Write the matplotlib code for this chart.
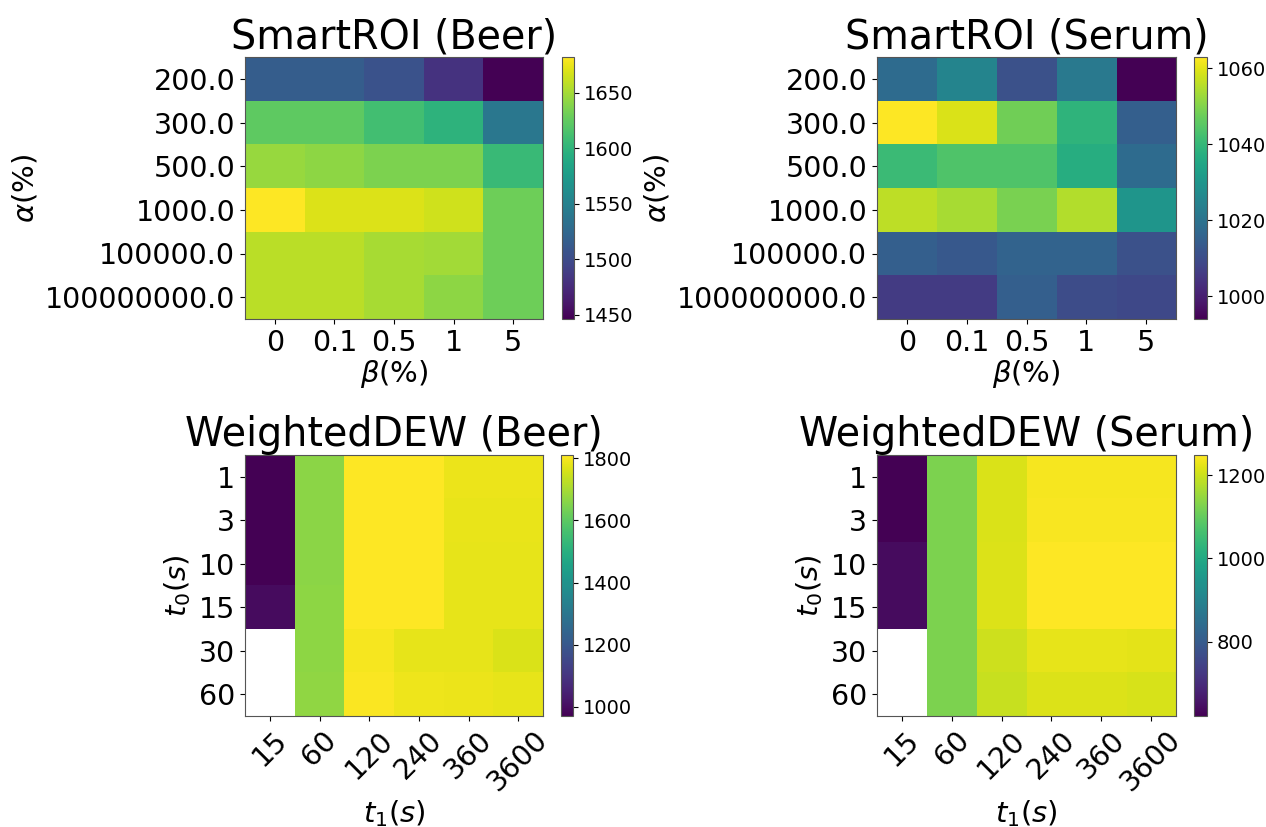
import numpy as np
import matplotlib
matplotlib.use("Agg")
import matplotlib.pyplot as plt

# parameter grids
alphas = ["200.0", "300.0", "500.0", "1000.0", "100000.0", "100000000.0"]
betas = ["0", "0.1", "0.5", "1", "5"]
t0_vals = ["1", "3", "10", "15", "30", "60"]
t1_vals = ["15", "60", "120", "240", "360", "3600"]

# SmartROI results (rows = alpha, cols = beta)
smartroi_beer = [
    [1516, 1516, 1505, 1481, 1446],
    [1623, 1623, 1611, 1599, 1540],
    [1646, 1642, 1635, 1635, 1606],
    [1682, 1670, 1670, 1665, 1630],
    [1658, 1658, 1651, 1649, 1630],
    [1658, 1658, 1651, 1642, 1630],
]
smartroi_serum = [
    [1018, 1025, 1011, 1022, 994],
    [1063, 1059, 1048, 1039, 1015],
    [1041, 1044, 1044, 1037, 1018],
    [1056, 1054, 1049, 1055, 1030],
    [1015, 1013, 1016, 1016, 1011],
    [1006, 1006, 1015, 1010, 1009],
]

# WeightedDEW results (rows = t0, cols = t1), nan where t0 > t1
dew_beer = [
    [971, 1665, 1810, 1810, 1785, 1785],
    [971, 1665, 1810, 1808, 1783, 1783],
    [971, 1665, 1810, 1808, 1780, 1780],
    [995, 1668, 1810, 1808, 1778, 1778],
    [np.nan, 1668, 1800, 1780, 1778, 1762],
    [np.nan, 1672, 1805, 1790, 1785, 1780],
]
dew_serum = [
    [622, 1125, 1212, 1240, 1240, 1240],
    [622, 1125, 1212, 1243, 1243, 1243],
    [640, 1125, 1215, 1248, 1248, 1248],
    [640, 1125, 1215, 1248, 1248, 1248],
    [np.nan, 1125, 1200, 1225, 1225, 1222],
    [np.nan, 1125, 1195, 1215, 1215, 1210],
]

W, H = 1266, 827
fig = plt.figure(figsize=(W / 100, H / 100), dpi=100)


def px_axes(l, t, r, b):
    return fig.add_axes([l / W, 1 - b / H, (r - l) / W, (b - t) / H])


def draw(box, cbox, data, xt, yt, title, xlabel, ylabel, rotate, cticks):
    ax = px_axes(*box)
    cax = px_axes(*cbox)
    arr = np.array(data, dtype=float)
    im = ax.imshow(arr, cmap="viridis", aspect="auto")
    ax.set_xticks(range(len(xt)))
    ax.set_yticks(range(len(yt)))
    if rotate:
        ax.set_xticklabels(xt, rotation=45, fontsize=20.5)
    else:
        ax.set_xticklabels(xt, fontsize=20.5)
    ax.set_yticklabels(yt, fontsize=20.5)
    ax.set_title(title, fontsize=28.5, pad=2)
    ax.set_xlabel(xlabel, fontsize=21, labelpad=1)
    ax.set_ylabel(ylabel, fontsize=21, labelpad=4)
    for s in ax.spines.values():
        s.set_color("#555555")
    cb = fig.colorbar(im, cax=cax)
    cb.set_ticks(cticks)
    cb.ax.tick_params(labelsize=14)
    cb.outline.set_edgecolor("#555555")


draw((245, 57, 543, 319), (562, 57, 574, 319), smartroi_beer, betas, alphas,
     "SmartROI (Beer)", r"$\beta$(%)", r"$\alpha$(%)", False,
     [1450, 1500, 1550, 1600, 1650])
draw((877, 57, 1176, 319), (1194, 57, 1207, 319), smartroi_serum, betas, alphas,
     "SmartROI (Serum)", r"$\beta$(%)", r"$\alpha$(%)", False,
     [1000, 1020, 1040, 1060])
draw((245, 455, 543, 716), (561, 455, 573, 716), dew_beer, t1_vals, t0_vals,
     "WeightedDEW (Beer)", r"$t_1(s)$", r"$t_0(s)$", True,
     [1000, 1200, 1400, 1600, 1800])
draw((877, 455, 1176, 716), (1194, 455, 1207, 716), dew_serum, t1_vals, t0_vals,
     "WeightedDEW (Serum)", r"$t_1(s)$", r"$t_0(s)$", True,
     [800, 1000, 1200])

fig.savefig("out.png", dpi=100)
